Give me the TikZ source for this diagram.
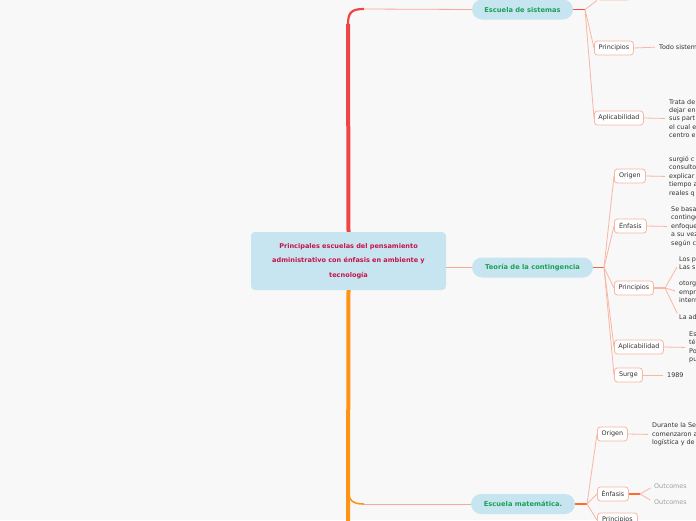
\documentclass[tikz,border=0pt]{standalone}
\usepackage{fontspec}
\setmainfont{DejaVu Sans}
\definecolor{bgc}{HTML}{F8F8F8}
\definecolor{cblue}{HTML}{C6E5F0}
\definecolor{crim}{HTML}{C8124A}
\definecolor{sgreen}{HTML}{1BA055}
\definecolor{tred}{HTML}{EE4646}
\definecolor{torange}{HTML}{FF9414}
\definecolor{connc}{HTML}{F7A898}
\definecolor{boxline}{HTML}{F9B6A4}
\definecolor{hubr}{HTML}{EE5040}
\definecolor{hubo}{HTML}{F26A3A}
\definecolor{hubm}{HTML}{FF6A30}
\definecolor{dgray}{HTML}{333333}
\definecolor{lgray}{HTML}{A0A0A0}
\begin{document}
\begin{tikzpicture}[x=1pt,y=-1pt,
  central/.style={fill=cblue, rounded corners=4pt, minimum width=195pt, minimum height=58pt,
    text width=190pt, align=center, inner sep=0pt, text=crim,
    font=\bfseries\fontsize{6.55}{14.5}\selectfont},
  school/.style={fill=cblue, rounded corners=10pt, minimum height=20pt, inner sep=0pt,
    text=sgreen, font=\bfseries\fontsize{6.7}{8}\selectfont},
  leafbox/.style={draw=boxline, fill=white, rounded corners=3pt, line width=0.8pt,
    minimum height=14pt, inner sep=0pt, anchor=west, text=dgray,
    font=\fontsize{6.4}{7}\selectfont},
  leaftext/.style={anchor=west, align=left, inner sep=0pt, text=dgray,
    font=\fontsize{6.4}{8.4}\selectfont},
  conn/.style={draw=connc, line width=0.8pt},
  lconn/.style={draw=boxline, line width=0.8pt},
  hubline/.style={line width=1.6pt},
]
\fill[bgc] (0,0) rectangle (696,520);
\useasboundingbox (0,0) rectangle (696,520);
\clip (0,0) rectangle (696,520);

% ---------- root and trunk ----------
\node[central] (root) at (348.5,261) {Principales escuelas del pensamiento\\administrativo con énfasis en ambiente y\\tecnología};

\coordinate (ttop) at (348,24);
\coordinate (tbend) at (364,9);
\coordinate (bbend) at (364,504);
\coordinate (bstart) at (348,488);
\coordinate (tbottom) at (348,525);

\draw[tred, line width=4pt] (root.north) -- (ttop);
\draw[tred, line width=2.2pt] (ttop) .. controls (348,12) and (352,9) .. (tbend);
\draw[torange, line width=4pt] (root.south) -- (tbottom);
\draw[torange, line width=1.6pt] (bstart) .. controls (348,500) and (352,504) .. (bbend);

% ---------- Escuela de sistemas ----------
\node[school, minimum width=101pt] (sis) at (522.5,9.5) {Escuela de sistemas};
\draw[conn] (tbend) -- (sis.west);
\coordinate (sish) at (585,9.5);
\draw[hubline, hubr] (sis.east) -- (sish);
\node[leafbox, minimum width=33pt] (sis0) at (597,-7) {};
\node[leafbox, minimum width=39pt] (sisp) at (594,48) {Principios};
\node[leafbox, minimum width=49pt] (sisa) at (594,118) {Aplicabilidad};
\draw[lconn] (sish) -- (sis0.south west);
\draw[lconn] (sish) -- (sisp.west);
\draw[lconn] (sish) -- (sisa.west);
\node[leaftext] (sispt) at (659,47) {Todo sistem};
\node[leaftext] (sisat) at (669,118.5) {Trata de\\dejar en\\sus part\\el cual e\\centro e};
\draw[lconn, shorten >=4pt] (sisp.east) -- (sispt.west);
\draw[lconn, shorten >=4pt] (sisa.east) -- (sisat.west);

% ---------- Teoría de la contingencia ----------
\node[school, minimum width=121pt] (con) at (532.5,267.5) {Teoría de la contingencia};
\draw[conn] (con.west -| root.east) -- (con.west);
\coordinate (conh) at (604,267.5);
\draw[hubline, hubo] (con.east) -- (conh);
\node[leafbox, minimum width=31pt] (cono) at (614,176) {Origen};
\node[leafbox, minimum width=32pt] (cone) at (614,226) {Énfasis};
\node[leafbox, minimum width=39pt] (conp) at (614,288) {Principios};
\node[leafbox, minimum width=49pt] (cona) at (614,347) {Aplicabilidad};
\node[leafbox, minimum width=28pt] (cons) at (614,375) {Surge};
\foreach \c in {cono,cone,conp,cona,cons} \draw[lconn] (conh) -- (\c.west);

\node[leaftext] (conot) at (669,176.5) {surgió c\\consulto\\explicar\\tiempo a\\reales q};
\node[leaftext] (conet) at (671,226.5) {Se basa\\continge\\enfoque\\a su vez\\según c};
\draw[lconn, shorten >=4pt] (cono.east) -- (conot.west);
\draw[lconn, shorten >=4pt] (cone.east) -- (conet.west);

\coordinate (conph) at (665,288);
\draw[hubline, boxline] (conp.east) -- (conph);
\node[leaftext] (conp1) at (679,263.5) {Los p\\Las s};
\node[leaftext] (conp2) at (679,292) {otorg\\empr\\intern};
\node[leaftext] (conp3) at (679,317) {La ad};
\foreach \c in {conp1,conp2,conp3} \draw[lconn, shorten >=4pt] (conph) -- (\c.west);

\node[leaftext] (conat) at (689,347.5) {Es\\té\\Po\\pu};
\node[leaftext] (const) at (667,375) {1989};
\draw[lconn, shorten >=4pt] (cona.east) -- (conat.west);
\draw[lconn, shorten >=4pt] (cons.east) -- (const.west);

% ---------- Escuela matemática ----------
\node[school, minimum width=104pt] (mat) at (523,504) {Escuela matemática.};
\draw[conn] (bbend) -- (mat.west);
\coordinate (math) at (587,504);
\draw[hubline, hubm] (mat.east) -- (math);
\node[leafbox, minimum width=30pt] (mato) at (597,434) {Origen};
\node[leafbox, minimum width=31pt] (mate) at (597,494) {Énfasis};
\node[leafbox, minimum width=40pt] (matp) at (597,520) {Principios};
\foreach \c in {mato,mate,matp} \draw[lconn] (math) -- (\c.west);

\node[leaftext] (matot) at (652,434.5) {Durante la Se\\comenzaron a\\logística y de};
\draw[lconn, shorten >=4pt] (mato.east) -- (matot.west);

\coordinate (mateh) at (640,494);
\draw[hubline, hubm] (mate.east) -- (mateh);
\node[leaftext, text=lgray] (mat1) at (654,486) {Outcomes};
\node[leaftext, text=lgray] (mat2) at (654,502) {Outcomes};
\draw[lconn, shorten >=4pt] (mateh) -- (mat1.west);
\draw[lconn, shorten >=4pt] (mateh) -- (mat2.west);
\end{tikzpicture}
\end{document}
